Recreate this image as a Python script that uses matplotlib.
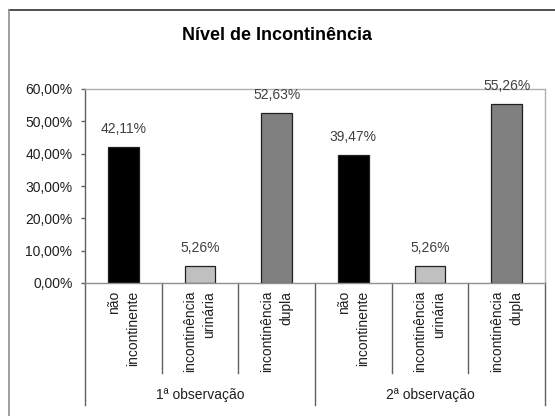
import matplotlib.pyplot as plt
from matplotlib.lines import Line2D
import numpy as np

plt.rcParams['font.family'] = ['Liberation Sans', 'DejaVu Sans']

# data
categories = ['não\nincontinente', 'incontinência\nurinária', 'incontinência\ndupla'] * 2
groups = ['1ª observação', '2ª observação']
values = [42.11, 5.26, 52.63, 39.47, 5.26, 55.26]
bar_colors = ['#000000', '#c0c0c0', '#808080'] * 2
yticks = [0, 10, 20, 30, 40, 50, 60]


def pct(v):
    return f'{v:.2f}'.replace('.', ',') + '%'


fig = plt.figure(figsize=(5.55, 4.16), dpi=100)
ax = fig.add_axes([85 / 555, 1 - 283 / 416, 460 / 555, 194 / 416])

x = np.arange(len(values))
bars = ax.bar(x, values, width=0.4, color=bar_colors, edgecolor='#202020', linewidth=0.9)

for xi, v in zip(x, values):
    ax.annotate(pct(v), (xi, v), xytext=(0, 8), textcoords='offset points',
                ha='center', va='bottom', fontsize=10, color='#404040')

ax.set_xlim(-0.5, len(values) - 0.5)
ax.set_ylim(0, 60)
ax.set_yticks(yticks)
ax.set_yticklabels([pct(t) for t in yticks], fontsize=10, color='#202020')
ax.tick_params(axis='y', direction='out', length=3, width=1, color='#606060', pad=6)
ax.set_xticks([])

ax.spines['left'].set_color('#606060')
ax.spines['bottom'].set_color('#909090')
ax.spines['top'].set_color('#b0b0b0')
ax.spines['right'].set_color('#b0b0b0')
for s in ax.spines.values():
    s.set_linewidth(1)

# multi-level category axis, Excel style
trans = ax.get_xaxis_transform()
inner_bottom = (283 - 373) / 194
outer_bottom = (283 - 405) / 194
for b in [0.5, 1.5, 3.5, 4.5]:
    ax.plot([b, b], [0, inner_bottom], transform=trans, color='#606060',
            linewidth=1, clip_on=False)
for b in [-0.5, 2.5, 5.5]:
    ax.plot([b, b], [0, outer_bottom], transform=trans, color='#606060',
            linewidth=1, clip_on=False)

for xi, lab in zip(x, categories):
    ax.text(xi, -8 / 194, lab, transform=trans, rotation=90, ha='center', va='top',
            multialignment='right', fontsize=10, color='#202020', linespacing=1.45)

for gi, g in enumerate(groups):
    ax.text(gi * 3 + 1, (283 - 395) / 194, g, transform=trans, ha='center', va='center',
            fontsize=10, color='#202020')

fig.text(0.5, 1 - 35 / 416, 'Nível de Incontinência', ha='center', va='center',
         fontsize=13, fontweight='bold')

# chart frame (only top and left edges are visible in the crop)
fig.add_artist(Line2D([9 / 555, 1], [1 - 10 / 416, 1 - 10 / 416], color='#303030', linewidth=1.2))
fig.add_artist(Line2D([9 / 555, 9 / 555], [0, 1 - 10 / 416], color='#909090', linewidth=1.2))

fig.savefig('out.png', dpi=100)
